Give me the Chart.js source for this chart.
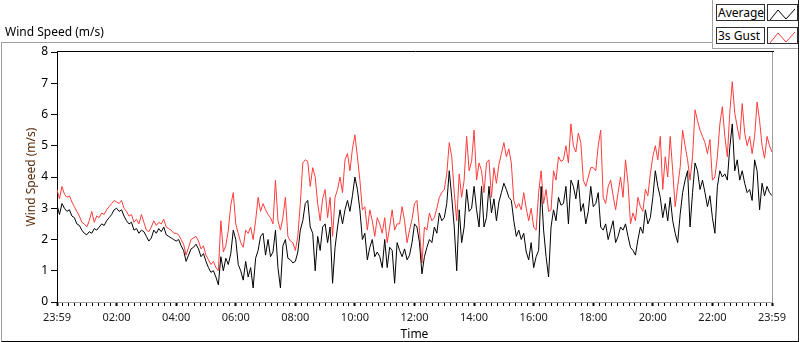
<!DOCTYPE html>
<html>
<head>
<meta charset="utf-8">
<script src="https://cdn.jsdelivr.net/npm/chart.js@4.4.1/dist/chart.umd.min.js"></script>
<style>
body{margin:0;width:800px;height:342px;overflow:hidden;background:#fff;font-family:"Noto Sans",sans-serif;}
#c{position:absolute;left:0;top:0;}
.frame{position:absolute;left:1px;top:42px;width:796px;height:298px;border-top:1px solid #a0a0a0;border-left:1px solid #a0a0a0;border-bottom:1px solid #000;border-right:1px solid #202020;}
.rline{position:absolute;left:798px;top:0;width:1px;height:43px;background:#202020;}
.title{position:absolute;left:5px;top:24px;font-size:12px;line-height:15px;color:#000;}
.panel{position:absolute;left:712px;top:0;width:85px;height:48px;background:#fff;border-left:1px solid #a0a0a0;border-bottom:1px solid #a0a0a0;}
.lbl{position:absolute;left:3px;width:46px;height:15px;border:1px solid #303030;font-size:12px;line-height:15px;color:#000;padding-left:1px;white-space:nowrap;overflow:hidden;}
.ico{position:absolute;left:54px;width:29px;height:15px;border:1px solid #303030;background:#fff;}
</style>
</head>
<body>
<canvas id="c" width="800" height="342"></canvas>
<div class="frame"></div>
<div class="rline"></div>
<div class="title">Wind Speed (m/s)</div>
<div class="panel">
  <div class="lbl" style="top:4px">Average</div>
  <div class="ico" style="top:4px"><svg width="29" height="15"><polyline points="2,13 10,3 18,12 27,2" fill="none" stroke="#000" stroke-width="1"/></svg></div>
  <div class="lbl" style="top:27px">3s Gust</div>
  <div class="ico" style="top:27px"><svg width="29" height="15"><polyline points="2,13 10,3 18,12 27,2" fill="none" stroke="#ff3c3c" stroke-width="1"/></svg></div>
</div>
<script>
// one value every 5 minutes, starting 23:59, one row per hour
const STEP_MIN=5

const avgSpeed=[
3.1,2.8,3.15,3.0,2.9,2.95,2.75,2.7,2.5,2.45,2.3,2.2,
2.15,2.25,2.2,2.35,2.3,2.4,2.5,2.45,2.6,2.7,2.8,2.95,
3.0,2.9,2.95,2.75,2.6,2.5,2.55,2.3,2.35,2.2,2.3,2.25,
2.1,1.95,2.05,2.3,2.2,2.35,2.25,2.4,2.15,2.1,2.05,2.0,
1.95,2.0,1.8,1.65,1.3,1.5,1.7,1.75,1.85,1.7,1.45,1.55,
1.3,1.1,0.95,1.0,0.8,0.55,1.45,1.0,1.4,1.2,1.55,2.3,
2.0,1.2,1.0,0.7,1.3,0.8,1.1,0.45,1.4,1.65,2.1,2.2,
1.5,2.0,1.45,1.6,2.3,1.1,0.45,1.8,2.0,1.4,1.35,1.25,
1.3,1.6,2.3,2.6,3.15,3.25,2.4,2.2,1.0,2.1,1.65,2.4,
2.5,1.9,2.4,0.6,1.75,2.4,2.95,2.5,2.95,3.25,2.9,3.4,
4.0,3.6,2.95,2.0,2.2,1.35,1.75,2.0,1.45,1.6,1.45,1.1,
2.0,1.1,1.75,1.65,0.6,1.9,1.65,1.45,1.7,1.35,1.5,1.9,
2.5,2.4,1.9,0.9,1.45,1.75,2.0,1.9,2.4,2.2,2.85,2.6,
2.7,3.15,4.2,3.35,2.4,1.0,2.95,1.9,2.4,3.6,2.9,3.0,
3.7,2.95,2.4,3.7,2.4,2.7,3.7,2.85,3.3,2.6,3.2,3.5,
3.8,3.6,3.35,3.25,2.6,2.1,2.3,2.0,2.2,1.6,1.35,1.9,
1.1,1.45,1.65,3.7,2.3,1.45,0.8,2.4,2.95,2.6,3.35,3.1,
3.15,3.7,2.5,3.9,3.7,3.3,3.9,2.9,3.15,2.5,2.9,3.7,
3.05,3.15,3.5,2.4,2.3,2.5,2.0,2.3,2.6,1.9,2.1,2.4,
2.3,2.5,2.1,1.75,1.65,1.5,2.0,2.4,2.2,2.95,2.5,2.7,
3.35,4.2,3.7,3.35,2.7,3.15,2.6,3.35,2.6,2.2,1.9,2.8,
3.5,3.9,4.2,2.4,3.5,4.45,4.2,3.6,3.9,3.5,3.05,3.4,
2.7,2.2,3.7,4.2,4.0,4.1,3.9,4.95,5.7,4.2,4.55,3.9,
4.2,3.8,3.5,3.6,3.25,4.55,4.2,2.95,3.8,3.4,3.7,3.5,
3.4
]

const gustSpeed=[
3.6,3.3,3.7,3.45,3.35,3.4,3.2,3.05,2.9,2.75,2.55,2.5,
2.4,2.6,2.9,2.55,2.75,2.7,2.85,2.8,2.95,3.05,3.15,3.25,
3.2,3.15,3.25,3.0,2.9,2.75,2.8,2.55,2.65,2.5,2.8,2.55,
2.3,2.25,2.4,2.6,2.45,2.55,2.5,2.65,2.4,2.35,2.3,2.2,
2.2,2.15,2.0,1.85,1.5,1.75,2.0,2.05,2.1,1.95,1.7,1.8,
1.5,1.35,1.2,1.3,1.1,1.0,2.6,1.6,1.8,2.3,3.1,3.5,
2.5,2.2,1.9,1.75,2.3,2.2,2.4,2.0,2.6,3.35,2.9,3.15,
2.95,2.8,2.7,2.5,3.9,2.6,2.3,2.7,3.35,2.1,1.95,1.9,
1.65,2.1,3.15,4.45,4.55,4.5,3.7,4.3,4.0,3.15,2.6,3.3,
3.6,2.7,3.35,2.1,3.35,3.6,4.0,3.5,4.55,4.75,4.2,4.9,
5.35,4.65,3.9,2.95,3.05,2.3,2.95,2.6,2.1,2.7,2.5,2.2,
2.7,1.9,2.4,2.95,2.3,2.5,2.5,3.05,2.6,1.9,2.3,2.65,
3.15,3.25,2.3,1.25,2.4,2.3,2.85,2.6,2.7,3.0,3.35,3.5,
3.6,4.1,5.1,4.65,3.5,2.6,4.1,3.35,3.9,5.3,4.2,4.5,
5.5,3.9,4.45,4.2,3.5,4.45,4.55,3.35,4.3,3.8,4.4,4.75,
5.1,4.65,4.9,4.45,3.25,3.0,3.15,2.95,3.5,3.0,2.6,3.0,
2.4,2.3,3.5,4.2,3.15,3.6,2.9,2.95,4.2,3.9,4.65,4.5,
4.55,5.0,4.45,5.7,5.0,4.8,5.4,5.1,3.9,3.7,4.0,4.3,
4.3,4.2,5.0,5.5,3.35,3.15,3.7,3.9,3.4,2.95,3.5,4.0,
3.35,4.55,3.8,2.5,2.85,2.6,3.35,3.05,2.9,3.6,3.4,4.1,
4.65,5.0,4.55,5.3,3.6,4.65,4.0,5.3,4.2,3.05,3.7,4.3,
5.5,5.0,4.55,3.9,4.65,6.15,5.8,5.5,5.3,5.1,4.75,5.2,
3.9,4.0,4.65,5.7,6.25,5.3,4.65,6.05,7.05,6.05,5.6,5.2,
6.35,5.4,5.0,5.3,4.75,5.3,6.4,5.8,5.0,4.6,5.3,5.0,
4.8
]

const timeLabels=["23:59","02:00","04:00","06:00","08:00","10:00","12:00","14:00","16:00","18:00","20:00","22:00","23:59"]
const majorTicks=[0,120,240,360,480,600,720,840,960,1080,1200,1320,1440]
const MINOR_STEP=12
const yTicks=[0,1,2,3,4,5,6,7,8]

function toPoints(arr){
return arr.map((v,i)=>({x:i*STEP_MIN,y:v}))
}

let plotFrame={
id:"plotFrame",
afterDraw(chart){
let ctx=chart.ctx
let a=chart.chartArea
ctx.save()
ctx.lineWidth=1
ctx.strokeStyle="#000"
ctx.beginPath()
ctx.moveTo(a.left,Math.round(a.top)-0.5)
ctx.lineTo(a.right+2,Math.round(a.top)-0.5)
ctx.stroke()
ctx.strokeStyle="#a0a0a0"
ctx.beginPath()
ctx.moveTo(Math.round(a.right)+0.5,a.top)
ctx.lineTo(Math.round(a.right)+0.5,a.bottom)
ctx.stroke()
ctx.restore()
}
}

let chart=new Chart(document.getElementById("c"),{
type:"line",
data:{
datasets:[
{label:"Average",data:toPoints(avgSpeed),borderColor:"#000",borderWidth:1,pointRadius:0,tension:0},
{label:"3s Gust",data:toPoints(gustSpeed),borderColor:"#ff3c3c",borderWidth:1,pointRadius:0,tension:0}
]
},
options:{
responsive:false,
animation:false,
devicePixelRatio:1,
layout:{padding:{top:52,right:28,left:0,bottom:0}},
plugins:{legend:{display:false},tooltip:{enabled:false}},
scales:{
x:{
type:"linear",
min:0,
max:1440,
afterBuildTicks(scale){
let t=[]
for(let v=0;v<=1440;v+=MINOR_STEP) t.push({value:v})
scale.ticks=t
},
afterFit(scale){
scale.height=40
scale.paddingLeft=0
scale.paddingRight=0
},
ticks:{
autoSkip:false,
maxRotation:0,
padding:5,
color:"#1a1a1a",
font:{family:"Noto Sans",size:11},
callback(v){
let i=majorTicks.indexOf(v)
return i>=0?timeLabels[i]:""
}
},
grid:{
drawOnChartArea:false,
tickLength:4,
tickColor:"#000",
tickWidth:(c)=>c.tick&&majorTicks.includes(c.tick.value)?2:1
},
border:{color:"#a0a0a0",width:1},
title:{display:true,text:"Time",color:"#000",font:{family:"Noto Sans",size:12},padding:{top:0,bottom:0}}
},
y:{
min:0,
max:8,
afterBuildTicks(scale){
scale.ticks=yTicks.map(v=>({value:v}))
},
afterFit(scale){
scale.width=57
},
ticks:{
padding:3,
color:"#000",
font:{family:"Noto Sans",size:12}
},
grid:{drawOnChartArea:false,tickLength:6,tickColor:"#000"},
border:{color:"#000",width:1},
title:{display:true,text:"Wind Speed (m/s)",color:"#5a2d0c",font:{family:"Noto Sans",size:12},padding:{top:24,bottom:0}}
}
}
},
plugins:[plotFrame]
})
</script>
</body>
</html>
